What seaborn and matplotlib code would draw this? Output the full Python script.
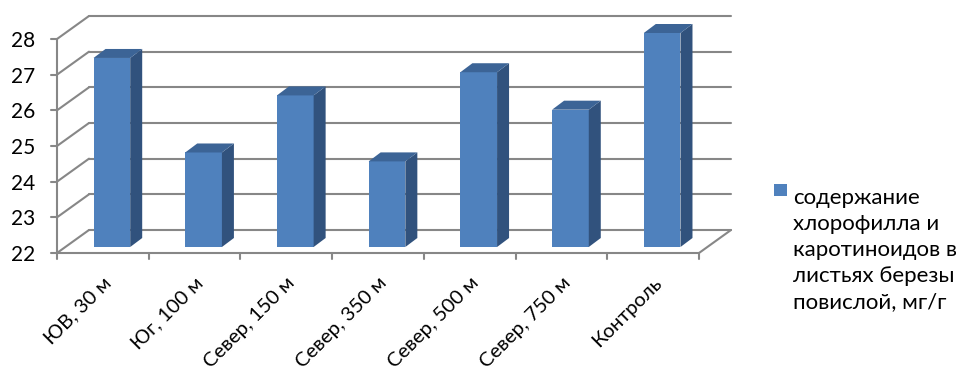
import numpy as np
import pandas as pd
import seaborn as sns
import matplotlib.pyplot as plt
from matplotlib.patches import Polygon, Rectangle
from matplotlib.lines import Line2D
from matplotlib.transforms import IdentityTransform, ScaledTranslation

categories = ['ЮВ, 30 м', 'Юг, 100 м', 'Север, 150 м', 'Север, 350 м',
              'Север, 500 м', 'Север, 750 м', 'Контроль']
values = [27.3, 24.65, 26.25, 24.4, 26.9, 25.85, 28.0]
yticks = [22, 23, 24, 25, 26, 27, 28]
legend_label = 'содержание\nхлорофилла и\nкаротиноидов в\nлистьях березы\nповислой, мг/г'

df = pd.DataFrame({'place': categories, 'value': values})

sns.set_theme(style='white')
plt.rcParams['font.family'] = ['Lato', 'DejaVu Sans']

W, H = 956, 376
fig = plt.figure(figsize=(W / 100, H / 100), dpi=100)
# front frame of the fake 3d plot area (pixels, from top-left)
left, right, bottom, top = 57, 699, 253, 39
ax = fig.add_axes([left / W, 1 - bottom / H, (right - left) / W, (bottom - top) / H])
ax.patch.set_visible(False)

front = '#4F81BD'
side = '#31527D'
topc = '#3C6496'
grid = '#878787'

sns.barplot(data=df, x='place', y='value', color=front, saturation=1,
            width=0.4, linewidth=0, ax=ax, zorder=3)

ax.set_xlim(-0.5, len(categories) - 0.5)
ax.set_ylim(yticks[0], yticks[-1])
ax.autoscale(False)
for s in ax.spines.values():
    s.set_visible(False)
ax.set_xlabel('')
ax.set_ylabel('')

# depth of walls and bars, pixels
wdx, wdy = 32, 23
bdx, bdy = 9, 6
ddx, ddy = 12, 9


def px(x, y):
    return np.array(ax.transData.transform((x, y)))


def seg(p0, p1, **kw):
    ax.add_line(Line2D([p0[0], p1[0]], [p0[1], p1[1]], transform=IdentityTransform(),
                       color=grid, lw=1.5, clip_on=False, zorder=1, **kw))


x0, x1 = -0.5, len(categories) - 0.5
for y in yticks:
    a = px(x0, y)
    b = a + (wdx, wdy)
    seg(a, b)
    seg(b, px(x1, y) + (wdx, wdy))
    seg(a, a - (6, 0))
seg(px(x0, yticks[0]), px(x0, yticks[-1]))
seg(px(x0, yticks[0]), px(x1, yticks[0]))
seg(px(x1, yticks[0]), px(x1, yticks[0]) + (wdx, wdy))
for b in np.arange(x0, x1 + 0.01):
    p = px(b, yticks[0])
    seg(p, p - (0, 6))

shift = ax.transData + ScaledTranslation(bdx / 100, bdy / 100, fig.dpi_scale_trans)
for p, v in zip(ax.patches, values):
    p.set_y(yticks[0])
    p.set_height(v - yticks[0])
    p.set_transform(shift)
    p.set_clip_on(False)
    l, r = p.get_x(), p.get_x() + p.get_width()
    br = px(r, yticks[0]) + (bdx, bdy)
    tr = px(r, v) + (bdx, bdy)
    tl = px(l, v) + (bdx, bdy)
    ax.add_patch(Polygon([br, tr, tr + (ddx, ddy), br + (ddx, ddy)], closed=True,
                         facecolor=side, edgecolor='none', transform=IdentityTransform(),
                         clip_on=False, zorder=3))
    ax.add_patch(Polygon([tl, tr, tr + (ddx, ddy), tl + (ddx, ddy)], closed=True,
                         facecolor=topc, edgecolor='none', transform=IdentityTransform(),
                         clip_on=False, zorder=3))

ax.set_yticks(yticks)
ax.set_yticklabels([str(t) for t in yticks], fontsize=15, color='black')
ax.tick_params(axis='y', length=0, pad=16)
ax.set_xticks(range(len(categories)))
ax.set_xticklabels(categories, fontsize=14.5, color='black')
ax.tick_params(axis='x', length=0, pad=15)
plt.setp(ax.get_xticklabels(), rotation=45, ha='right', rotation_mode='anchor')

# legend
fig.add_artist(Rectangle((774 / W, 180 / H), 13 / W, 12 / H, transform=fig.transFigure,
                         facecolor=front, edgecolor='none'))
fig.text(793 / W, 1 - 250 / H, legend_label, ha='left', va='center',
         fontsize=16, linespacing=1.38, color='black')

fig.savefig('out.png', dpi=100)
